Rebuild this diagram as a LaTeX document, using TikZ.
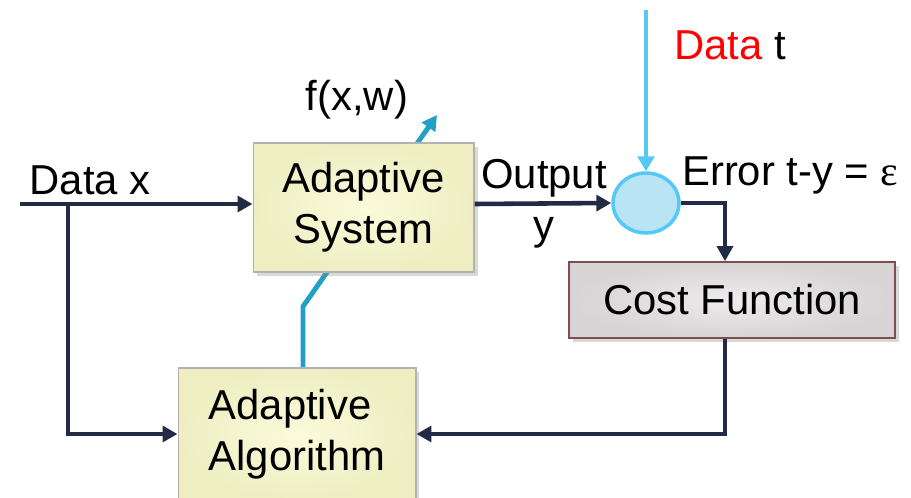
\documentclass[tikz,border=0pt]{standalone}
\usepackage{fontspec}
\setmainfont{Liberation Sans}
\newfontfamily\symfont{Liberation Serif}
\usetikzlibrary{arrows.meta}
\usetikzlibrary{positioning}
\usetikzlibrary{shapes.geometric}
\usetikzlibrary{shadows}
\usetikzlibrary{backgrounds}

\definecolor{navy}{HTML}{232A46}
\definecolor{tealline}{HTML}{22A0C4}
\definecolor{skyline}{HTML}{55C8F8}
\definecolor{skyfill}{HTML}{B8E4F4}
\definecolor{boxyellow}{HTML}{FBFBDC}
\definecolor{boxyellowedge}{HTML}{EEEEC2}
\definecolor{boxgray}{HTML}{EDEBED}
\definecolor{boxgrayedge}{HTML}{D8D4D6}
\definecolor{costborder}{HTML}{7E4E52}

\tikzset{
	flow/.style={draw=navy, line width=2.6pt, -{Triangle[length=8.5pt,width=9pt]}},
	yellowbox/.style={rectangle, draw=gray!60, line width=0.6pt, inner color=boxyellow, outer color=boxyellowedge,
		drop shadow={shadow xshift=2pt, shadow yshift=-2pt, opacity=0.3}},
	graybox/.style={rectangle, draw=costborder, line width=1pt, inner color=boxgray, outer color=boxgrayedge,
		drop shadow={shadow xshift=2pt, shadow yshift=-2pt, opacity=0.3}},
}

\begin{document}
\begin{tikzpicture}[x=0.02cm, y=0.02cm, every node/.style={font=\fontsize{23.8}{29}\selectfont}]
	\useasboundingbox (0,0) rectangle (911,497);
	% blocks
	\node[yellowbox, minimum width=4.42cm, minimum height=2.58cm, align=center] (sys) at (363.5,289.5) {Adaptive\\System};
	\node[yellowbox, minimum width=4.76cm, minimum height=2.64cm, align=left] (alg) at (297,63) {Adaptive\\Algorithm};
	\node[graybox, minimum width=6.52cm, minimum height=1.52cm] (cost) at (732,197) {Cost Function};
	\node[ellipse, draw=skyline, fill=skyfill, line width=2pt, minimum width=1.32cm, minimum height=1.2cm] (sum) at (646,294) {};
	% free ends
	\coordinate (datain) at (20,293);
	\coordinate (split) at (68,293);
	\coordinate (tin) at (646,487);
	% labels
	\node (lx) at (90,317) {Data x};
	\node[align=center] (lout) at (544,293) {Output\\y};
	\node[anchor=west] (lerr) at (676,322) {Error t-y = {\symfont ε}};
	\node[anchor=west] (lt) at (668,452) {\textcolor{red}{Data} t};
	\node (lf) at (357,397) {f(x,w)};
	% signal paths
	\draw[flow] (datain) -- (datain -| sys.west);
	\draw[flow] (split) |- (alg.west);
	\draw[flow] (sys.east |- datain) -- (sum.west);
	\draw[flow] (sum.east) -| ([xshift=-0.14cm]cost.north);
	\draw[flow] ([xshift=-0.14cm]cost.south) |- (alg.east);
	\draw[draw=skyline, line width=2.8pt, -{Triangle[length=8.5pt,width=9.5pt]}] (tin) -- (sum.north);
	% weight update runs behind the system block
	\begin{pgfonlayer}{background}
		\draw[draw=tealline, line width=2.8pt, -{Triangle[length=8.5pt,width=9pt]}] ([xshift=0.12cm]alg.north) -- ++(0,61) -- (437,382);
	\end{pgfonlayer}
\end{tikzpicture}
\end{document}
